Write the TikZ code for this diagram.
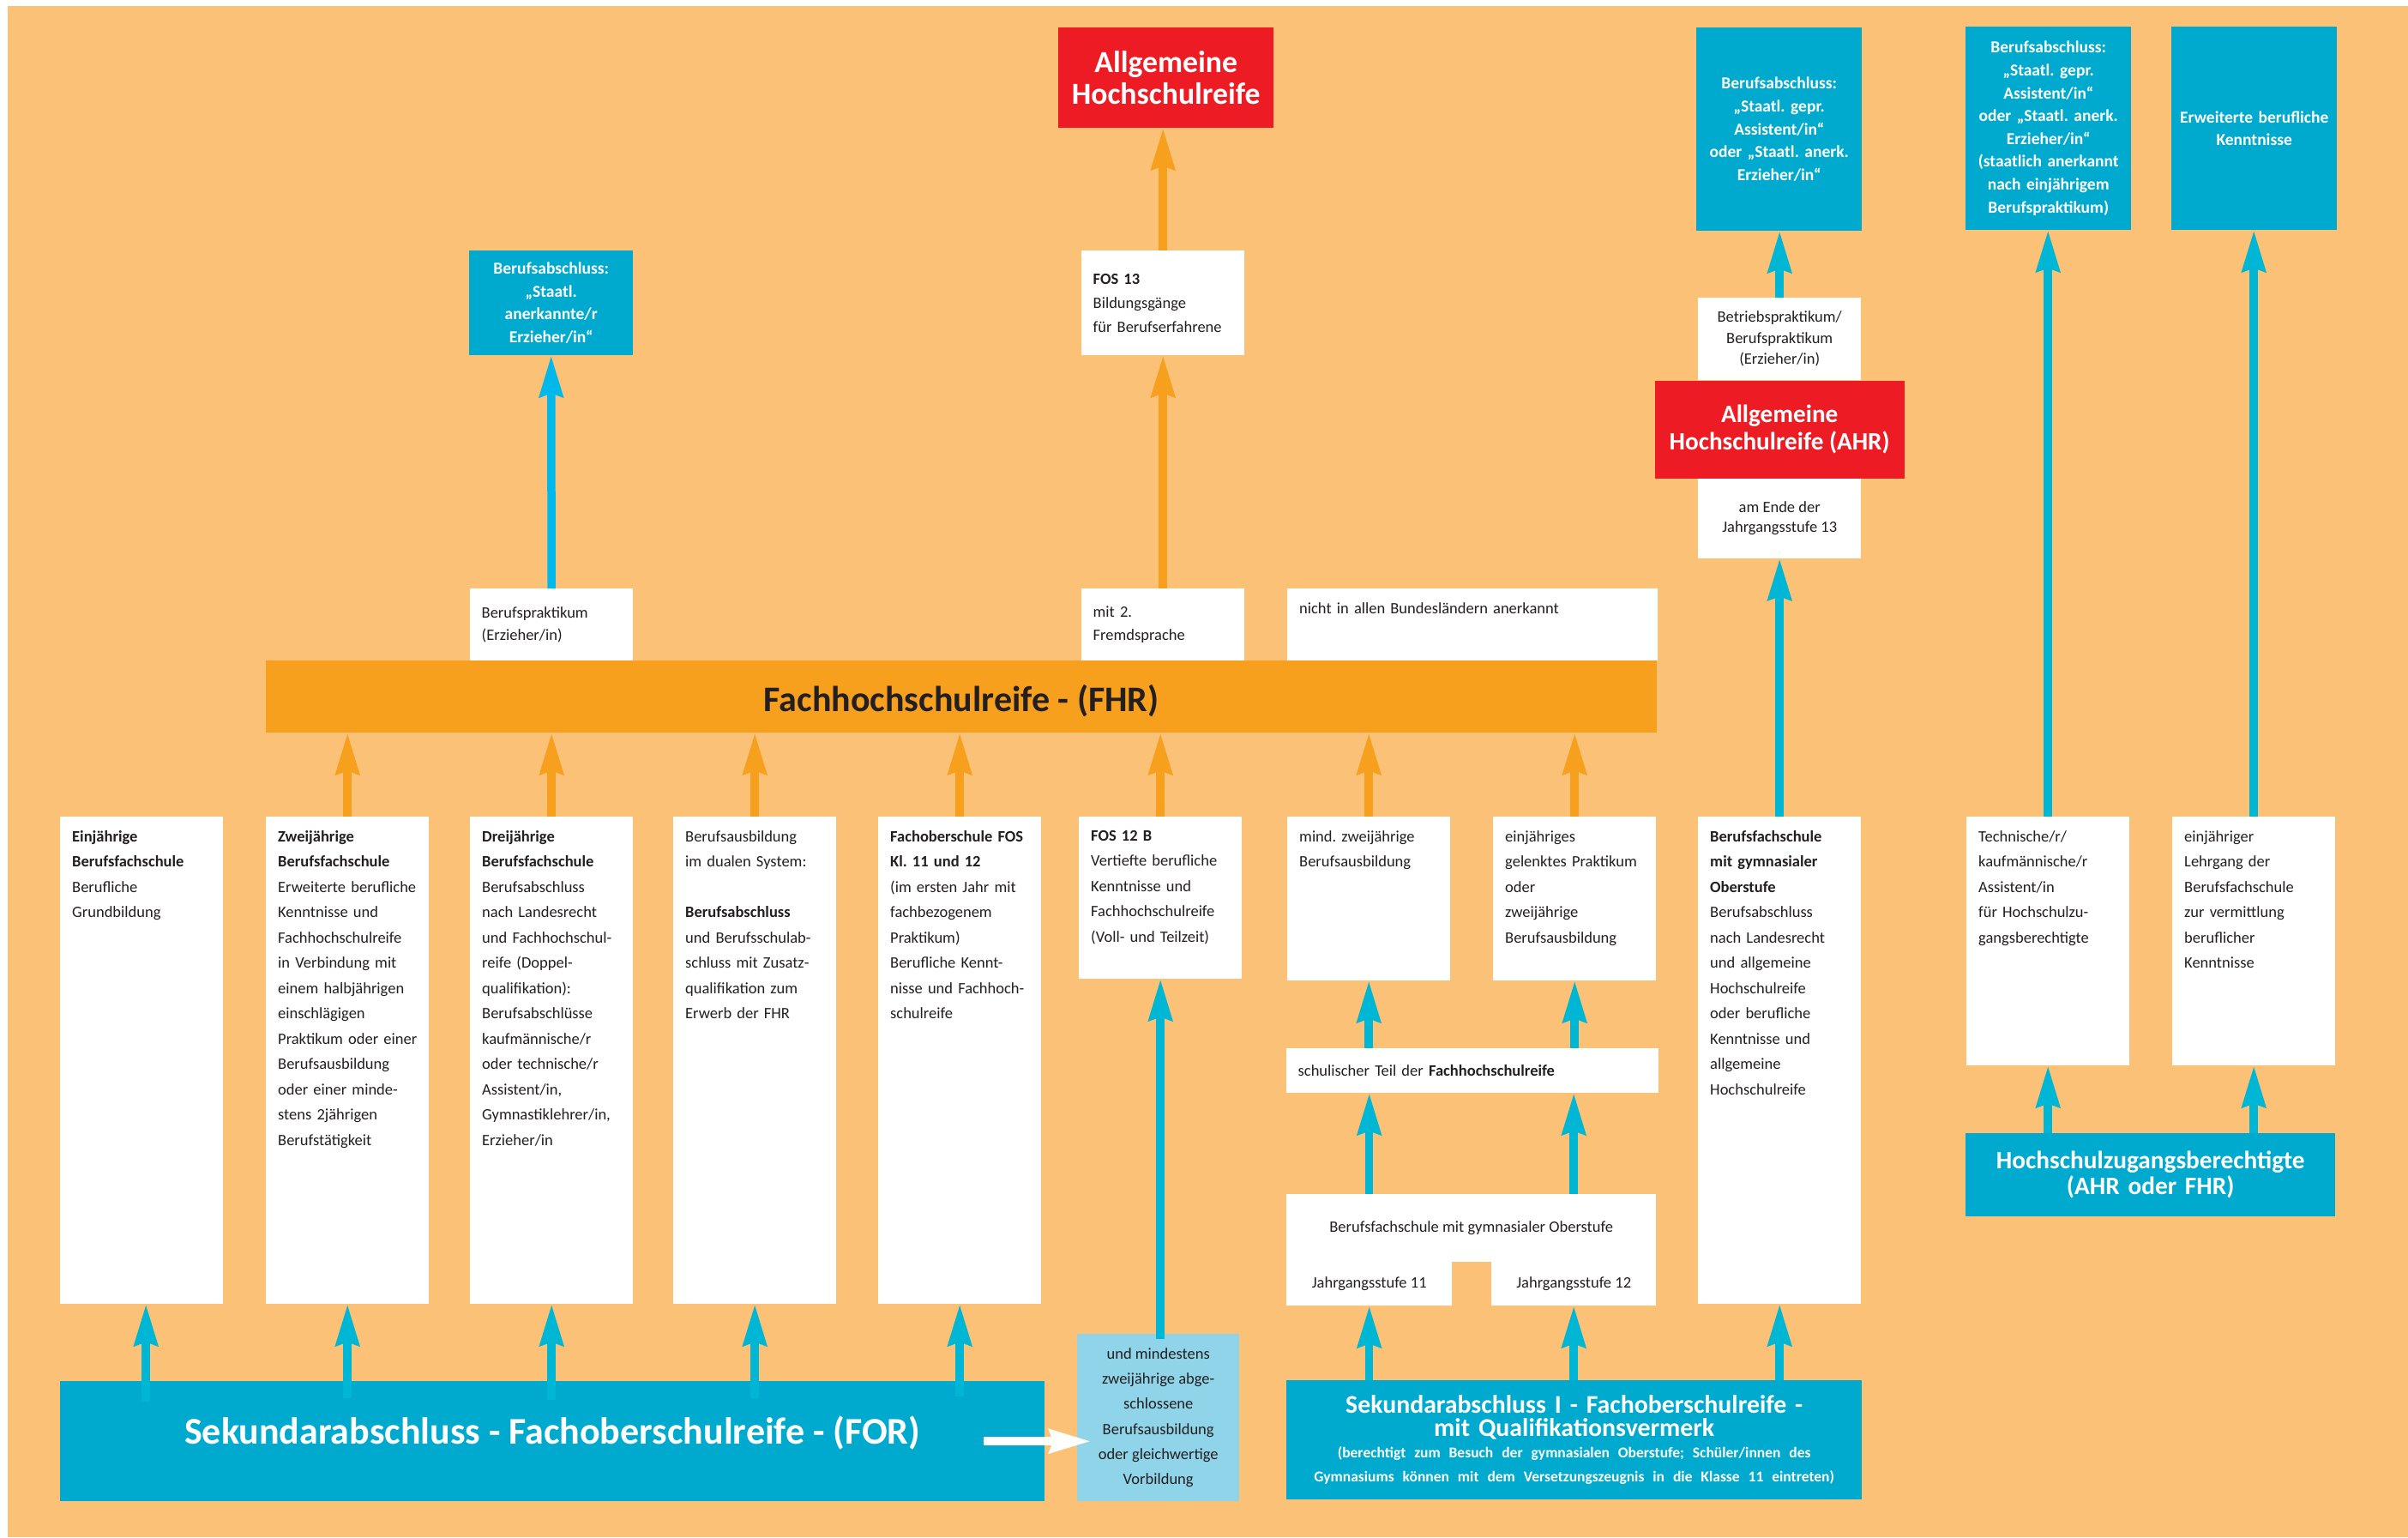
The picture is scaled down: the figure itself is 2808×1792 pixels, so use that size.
\documentclass[tikz,border=0pt]{standalone}
\usepackage{fontspec}
\setmainfont{Carlito}
\usepackage{tikz}
\usetikzlibrary{arrows.meta}
\usetikzlibrary{positioning}
\usetikzlibrary{calc}
\definecolor{bgorange}{RGB}{251,193,119}
\definecolor{fhrorange}{RGB}{247,160,30}
\definecolor{arroworange}{RGB}{246,160,30}
\definecolor{boxblue}{RGB}{0,170,206}
\definecolor{arrowblue}{RGB}{0,182,213}
\definecolor{skyarrow}{RGB}{0,184,235}
\definecolor{lightblue}{RGB}{143,212,232}
\definecolor{ahrred}{RGB}{237,28,36}
\definecolor{ink}{RGB}{35,31,32}
\tikzstyle{whitebox} = [rectangle, fill=white, inner sep=0pt, anchor=north west, minimum
width=190pt, text=ink, font=\fontsize{18.5}{29.5}\selectfont]
\tikzstyle{tallbox} = [whitebox, minimum height=568pt]
\tikzstyle{notebox} = [whitebox, align=left, text width=163pt]
\tikzstyle{boxtext} = [anchor=north west, inner sep=0pt, text width=176pt, align=left,
text=ink, font=\fontsize{18.5}{29.5}\selectfont]
\tikzstyle{bluebox} = [rectangle, fill=boxblue, inner sep=0pt, anchor=north west, minimum
width=193pt, text width=180pt, align=center, text=white, font=\bfseries\fontsize{19.5}{26.6}\selectfont]
\tikzstyle{redbox} = [rectangle, fill=ahrred, inner sep=0pt, align=center, text=white]
\tikzstyle{bar} = [rectangle, inner sep=0pt, anchor=north west]
\tikzstyle{bluearrow} = [line width=9.5pt, draw=arrowblue, -{Stealth[length=48pt, width=27pt, inset=4pt]}]
\tikzstyle{orangearrow} = [bluearrow, draw=arroworange]
\tikzstyle{whitearrow} = [bluearrow, draw=white]

\begin{document}
\frenchspacing
\begin{tikzpicture}[x=1pt, y=-1pt, node distance=0pt]
  \useasboundingbox (0,0) rectangle (2808,1792);
  \fill[white] (0,0) rectangle (2808,1792);
  \fill[bgorange] (9,7) rectangle (2808,1792);

  \node (ahrtop) [redbox, anchor=north west, minimum width=251pt, minimum height=117pt,
  font=\bfseries\fontsize{35.7}{37}\selectfont] at (1234,32) {Allgemeine\\Hochschulreife};
  \node (fos13) [notebox, minimum height=122pt, font=\fontsize{18.5}{28}\selectfont] at (1261,292)
  {\textbf{FOS 13}\\Bildungsgänge\\für Berufserfahrene};
  \node (erz) [bluebox, minimum width=191pt, minimum height=122pt, text width=175pt] at (547,292)
  {Berufsabschluss:\\„Staatl.\\anerkannte/r\\Erzieher/in“};
  \node (bprak) [notebox, minimum height=84pt, font=\fontsize{18.5}{26.7}\selectfont] at (548,686)
  {Berufspraktikum\\(Erzieher/in)};
  \node (mit2) [notebox, minimum height=84pt, font=\fontsize{18.5}{26.7}\selectfont] at (1261,686)
  {mit 2.\\Fremdsprache};
  \node (nicht) [whitebox, minimum width=432pt, minimum height=84pt] at (1501,686) {};
  \node (nichtt) [boxtext, text width=400pt] at ([xshift=14pt,yshift=-16pt]nicht.north west)
  {nicht in allen Bundesländern anerkannt};
  \node (fhr) [bar, fill=fhrorange, minimum width=1622pt, minimum height=84pt, text=ink, text height=40pt,
  font=\bfseries\fontsize{42}{42}\selectfont] at (310,770) {Fachhochschulreife - (FHR)};

  \node (b1) [tallbox] at (70,952) {};
  \node (b2) [tallbox] at (310,952) {};
  \node (b3) [tallbox] at (548,952) {};
  \node (b4) [tallbox] at (785,952) {};
  \node (b5) [tallbox] at (1024,952) {};
  \node (b6) [whitebox, minimum height=189pt] at (1258,952) {};
  \node (b7) [whitebox, minimum height=191pt] at (1501,952) {};
  \node (b8) [whitebox, minimum height=191pt] at (1741,952) {};
  \node (b9) [tallbox] at (1980,952) {};
  \node (b10) [whitebox, minimum height=290pt] at (2293,952) {};
  \node (b11) [whitebox, minimum height=290pt] at (2533,952) {};

  \node (b1t) [boxtext] at ([xshift=14pt,yshift=-16pt]b1.north west)
  {\textbf{Einjährige}\\\textbf{Berufsfachschule}\\Berufliche\\Grundbildung};
  \node (b2t) [boxtext] at ([xshift=14pt,yshift=-16pt]b2.north west)
  {\textbf{Zweijährige}\\\textbf{Berufsfachschule}\\Erweiterte berufliche\\Kenntnisse und\\Fachhochschulreife\\in Verbindung mit\\einem halbjährigen\\einschlägigen\\Praktikum oder einer\\Berufsausbildung\\oder einer minde-\\stens 2jährigen\\Berufstätigkeit};
  \node (b3t) [boxtext] at ([xshift=14pt,yshift=-16pt]b3.north west)
  {\textbf{Dreijährige}\\\textbf{Berufsfachschule}\\Berufsabschluss\\nach Landesrecht\\und Fachhochschul-\\reife (Doppel-\\qualifikation):\\Berufsabschlüsse\\kaufmännische/r\\oder technische/r\\Assistent/in,\\Gymnastiklehrer/in,\\Erzieher/in};
  \node (b4t) [boxtext] at ([xshift=14pt,yshift=-16pt]b4.north west)
  {Berufsausbildung\\im dualen System:\\[29.5pt]\textbf{Berufsabschluss}\\und Berufsschulab-\\schluss mit Zusatz-\\qualifikation zum\\Erwerb der FHR};
  \node (b5t) [boxtext] at ([xshift=14pt,yshift=-16pt]b5.north west)
  {\textbf{Fachoberschule FOS}\\\textbf{Kl. 11 und 12}\\(im ersten Jahr mit\\fachbezogenem\\Praktikum)\\Berufliche Kennt-\\nisse und Fachhoch-\\schulreife};
  \node (b6t) [boxtext] at ([xshift=14pt,yshift=-16pt]b6.north west)
  {\textbf{FOS 12 B}\\Vertiefte berufliche\\Kenntnisse und\\Fachhochschulreife\\(Voll- und Teilzeit)};
  \node (b7t) [boxtext] at ([xshift=14pt,yshift=-16pt]b7.north west)
  {mind. zweijährige\\Berufsausbildung};
  \node (b8t) [boxtext] at ([xshift=14pt,yshift=-16pt]b8.north west)
  {einjähriges\\gelenktes Praktikum\\oder\\zweijährige\\Berufsausbildung};
  \node (b9t) [boxtext] at ([xshift=14pt,yshift=-16pt]b9.north west)
  {\textbf{Berufsfachschule}\\\textbf{mit gymnasialer}\\\textbf{Oberstufe}\\Berufsabschluss\\nach Landesrecht\\und allgemeine\\Hochschulreife\\oder berufliche\\Kenntnisse und\\allgemeine\\Hochschulreife};
  \node (b10t) [boxtext] at ([xshift=14pt,yshift=-16pt]b10.north west)
  {Technische/r/\\kaufmännische/r\\Assistent/in\\für Hochschulzu-\\gangsberechtigte};
  \node (b11t) [boxtext] at ([xshift=14pt,yshift=-16pt]b11.north west)
  {einjähriger\\Lehrgang der\\Berufsfachschule\\zur vermittlung\\beruflicher\\Kenntnisse};

  \node (schul) [whitebox, minimum width=434pt, minimum height=52pt, align=left, text width=407pt]
  at (1500,1222) {schulischer Teil der \textbf{Fachhochschulreife}};
  \node (bfsgo) [whitebox, minimum width=431pt, minimum height=79pt] at (1500,1392)
  {Berufsfachschule mit gymnasialer Oberstufe};
  \node (j11) [whitebox, minimum width=193pt, minimum height=52pt] at (1500,1470) {Jahrgangsstufe 11};
  \node (j12) [whitebox, minimum width=192pt, minimum height=52pt] at (1739,1470) {Jahrgangsstufe 12};

  \node (for) [bar, fill=boxblue, minimum width=1148pt, minimum height=140pt, text=white, text depth=27pt,
  font=\bfseries\fontsize{44}{44}\selectfont] at (70,1610) {Sekundarabschluss - Fachoberschulreife - (FOR)};
  \node (lblue) [bar, fill=lightblue, minimum width=189pt, minimum height=195pt, align=center, text=ink,
  font=\fontsize{18.5}{29.2}\selectfont] at (1256,1555)
  {und mindestens\\zweijährige abge-\\schlossene\\Berufsausbildung\\oder gleichwertige\\Vorbildung};
  \node (seki) [bluebox, minimum width=671pt, minimum height=139pt, text width=650pt,
  font=\bfseries\fontsize{29.8}{26.5}\selectfont] at (1500,1609)
  {Sekundarabschluss I - Fachoberschulreife -\\mit Qualifikationsvermerk\\[-1pt]{\fontsize{17.5}{27.6}\selectfont (berechtigt zum Besuch der gymnasialen Oberstufe; Schüler/innen des}\\[1pt]{\fontsize{17.5}{27.6}\selectfont Gymnasiums können mit dem Versetzungszeugnis in die Klasse 11 eintreten)}};

  \node (rb1) [bluebox, minimum height=237pt] at (1978,32)
  {Berufsabschluss:\\„Staatl. gepr.\\Assistent/in“\\oder „Staatl. anerk.\\Erzieher/in“};
  \node (betrieb) [whitebox, minimum height=96pt, align=center, font=\fontsize{18.5}{24.5}\selectfont]
  at (1980,347) {Betriebspraktikum/\\Berufspraktikum\\(Erzieher/in)};
  \node (ahr) [redbox, below=of betrieb, minimum width=291pt, minimum height=114pt,
  font=\bfseries\fontsize{29.2}{31.7}\selectfont] {Allgemeine\\Hochschulreife (AHR)};
  \node (amende) [whitebox, below=of ahr, minimum height=93pt, align=center,
  font=\fontsize{18.5}{23.3}\selectfont] {am Ende der\\Jahrgangsstufe 13};
  \node (rb2) [bluebox, minimum height=237pt] at (2292,31)
  {Berufsabschluss:\\„Staatl. gepr.\\Assistent/in“\\oder „Staatl. anerk.\\Erzieher/in“\\(staatlich anerkannt\\nach einjährigem\\Berufspraktikum)};
  \node (rb3) [bluebox, minimum height=237pt] at (2532,31) {Erweiterte berufliche\\Kenntnisse};
  \node (hzb) [bluebox, minimum width=431pt, minimum height=97pt, text width=420pt,
  font=\bfseries\fontsize{29.3}{30}\selectfont] at (2292,1321) {Hochschulzugangsberechtigte\\(AHR oder FHR)};

  \draw[orangearrow] (fos13.north) -- (fos13.north |- ahrtop.south);
  \draw[orangearrow] (mit2.north) -- (fos13.south);
  \draw[bluearrow, draw=skyarrow] (bprak.north) -- (erz.south);

  \draw[orangearrow] (b2.north) -- (b2.north |- fhr.south);
  \draw[orangearrow] (b3.north) -- (b3.north |- fhr.south);
  \draw[orangearrow] (b4.north) -- (b4.north |- fhr.south);
  \draw[orangearrow] (b5.north) -- (b5.north |- fhr.south);
  \draw[orangearrow] (b6.north) -- (b6.north |- fhr.south);
  \draw[orangearrow] (b7.north) -- (b7.north |- fhr.south);
  \draw[orangearrow] (b8.north) -- (b8.north |- fhr.south);

  \draw[bluearrow] ($(b1.south |- for.north)+(5,24)$) -- ($(b1.south)+(5,0)$);
  \draw[bluearrow] ($(b2.south |- for.north)+(0,20)$) -- (b2.south);
  \draw[bluearrow] ($(b3.south |- for.north)+(0,22)$) -- (b3.south);
  \draw[bluearrow] ($(b4.south |- for.north)+(0,20)$) -- (b4.south);
  \draw[bluearrow] ($(b5.south |- for.north)+(0,18)$) -- (b5.south);
  \draw[bluearrow] ($(b6.south |- lblue.north)+(0,6)$) -- (b6.south);
  \draw[whitearrow] ($(for.east)+(-71,0)$) -- ($(for.east -| lblue.west)+(16,0)$);

  \draw[bluearrow] (j11.south |- seki.north) -- (j11.south);
  \draw[bluearrow] (j12.south |- seki.north) -- (j12.south);
  \draw[bluearrow] (b9.south |- seki.north) -- (b9.south);
  \draw[bluearrow] (j11.south |- bfsgo.north) -- (j11.south |- schul.south);
  \draw[bluearrow] (j12.south |- bfsgo.north) -- (j12.south |- schul.south);
  \draw[bluearrow] (b7.south |- schul.north) -- (b7.south);
  \draw[bluearrow] (b8.south |- schul.north) -- (b8.south);

  \draw[bluearrow] (b9.north) -- (b9.north |- amende.south);
  \draw[bluearrow] (betrieb.north) -- (betrieb.north |- rb1.south);
  \draw[bluearrow] (b10.north) -- (b10.north |- rb2.south);
  \draw[bluearrow] (b11.north) -- (b11.north |- rb3.south);
  \draw[bluearrow] (b10.south |- hzb.north) -- (b10.south);
  \draw[bluearrow] (b11.south |- hzb.north) -- (b11.south);
\end{tikzpicture}
\end{document}
